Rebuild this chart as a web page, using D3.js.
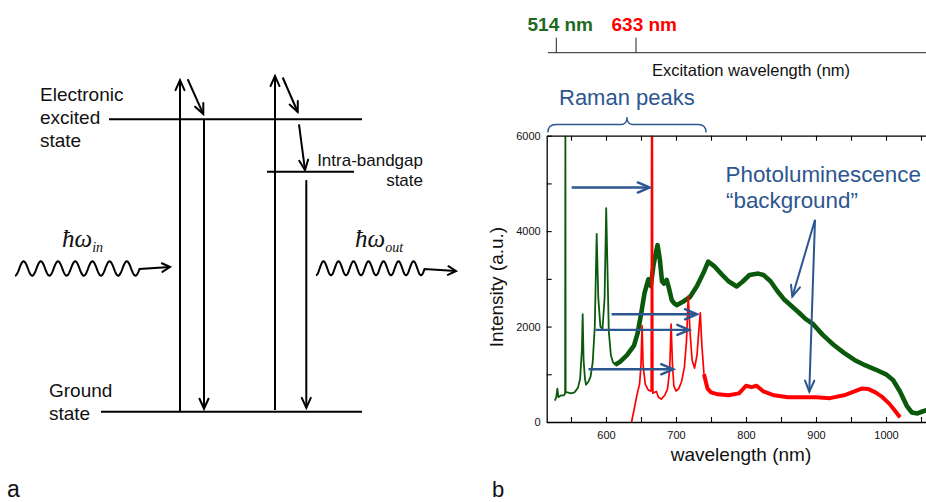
<!DOCTYPE html>
<html>
<head>
<meta charset="utf-8">
<script src="https://cdn.jsdelivr.net/npm/d3@7"></script>
<style>
  body { margin: 0; background: #fff; }
  svg { display: block; }
  text { font-family: "Liberation Sans", Arial, Helvetica, sans-serif; }
</style>
</head>
<body>
<svg id="fig" width="926" height="502"></svg>
<script>
// ---- spectrum data ----
const greenNm = [527,529,530.5,532,536,540,541.6,542,542.4,545,550,555,560,563,565.5,566.7,568,570,571.5,575,
  578,581,584,586.7,589,592,595,598,600.3,602,604,607,610,613,620,630,640,645,650,655,
  660.5,664,668,673.6,677,680,683,686.7,690,694,698,701,710,720,730,740,746,755,765,775,
  786.7,795,805,817.6,825,835,845,855,865,875,885,896,910,925,940,955,970,985,1000,1010,
  1020,1030,1037,1045,1052,1058];
const greenI = [450,520,700,520,560,560,600,6500,620,620,600,620,720,900,1500,2260,1300,900,780,850,
  950,1250,2000,3940,2600,2000,1950,2600,4480,3300,1900,1400,1250,1200,1260,1400,1600,1850,2250,2700,
  2990,2850,3300,3710,3400,2950,2900,2980,2800,2550,2480,2450,2520,2620,2850,3150,3360,3260,3100,2950,
  2840,2940,3080,3110,3080,2950,2740,2560,2430,2300,2160,2050,1820,1620,1450,1300,1190,1100,1000,880,
  640,330,200,180,220,250];

const redNm = [636.5,640,644,648,650,651.5,653,656,660,663,664.6,665.2,666.2,667,669,672,675,679,684,688,
  691,693,695,697,700,704,708,712,715,717.5,720,723,726.5,730,732.5,734.7,737,740,745,750,
  760,775,790,800,808,815,825,840,860,880,900,920,940,955,965,975,985,995,1005,1012,1020];
const redI = [0,250,550,800,1200,2020,1200,800,680,650,650,6500,6500,600,620,640,520,480,560,700,
  1100,2050,1200,750,650,700,850,1150,1700,2640,1900,1300,1130,1400,1900,2290,1600,1000,700,620,
  580,560,600,760,730,760,640,560,520,520,520,500,560,640,700,690,620,520,380,250,100];

const xMajor = [600, 700, 800, 900, 1000];
const xMinor = [550, 650, 750, 850, 950, 1050];
const yMajor = [0, 2000, 4000, 6000];
const yMinor = [1000, 3000, 5000];
const excitation = [514, 633];
const excitationColors = ['#1e6b1e', '#ff0000'];

// Raman shift arrows: [from nm, to nm, intensity]
const ramanArrows = [[551, 662.5, 4915], [608, 730, 2259], [585, 719, 1930], [575, 696, 1105]];
// PL annotation: common start, two ends
const plStart = [898.6, 4237];
const plEnds = [[866.2, 2628], [890.4, 636]];
const braceNm = [517, 743];

const GREEN = '#0b5a0b', RED = '#ff0000', BLUE = '#2c5690';

const svg = d3.select('#fig');

// ================= panel b =================
const x = d3.scaleLinear().domain([515.3, 1060]).range([546.7, 928]);
const y = d3.scaleLinear().domain([0, 6000]).range([422, 135.7]);
const xEx = d3.scaleLinear().domain([514, 633]).range([556.3, 636]);

svg.append('clipPath').attr('id', 'plotClip')
  .append('rect').attr('x', 546.7).attr('y', 135.7).attr('width', 400).attr('height', 286.3);

const plot = svg.append('g').attr('clip-path', 'url(#plotClip)');
const line = d3.line().x(d => x(d[0])).y(d => y(d[1]));

const green = d3.zip(greenNm, greenI);
const red = d3.zip(redNm, redI);

plot.append('path').datum(green).attr('d', line)
  .attr('fill', 'none').attr('stroke', GREEN).attr('stroke-width', 1.8).attr('stroke-linejoin', 'round');
plot.append('path').datum(green.filter(d => d[0] >= 612)).attr('d', line)
  .attr('fill', 'none').attr('stroke', GREEN).attr('stroke-width', 4.6).attr('stroke-linejoin', 'round');
plot.append('path').datum(red).attr('d', line)
  .attr('fill', 'none').attr('stroke', RED).attr('stroke-width', 1.7).attr('stroke-linejoin', 'round');
plot.append('path').datum(red.filter(d => d[0] >= 740)).attr('d', line)
  .attr('fill', 'none').attr('stroke', RED).attr('stroke-width', 4).attr('stroke-linejoin', 'round');

// axes: bottom, top border, left; ticks pointing inward
const axes = svg.append('g');
const bottomAxis = axes.append('g').attr('transform', `translate(0,${y(0)})`)
  .call(d3.axisBottom(x).tickValues(xMajor.concat(xMinor)).tickSizeInner(-5).tickSizeOuter(0)
    .tickFormat(d => xMajor.includes(d) ? d : ''));
bottomAxis.selectAll('text').attr('dy', '0.95em').attr('y', 7).style('font-size', '11px').attr('fill', '#111');
axes.append('g').attr('transform', `translate(0,${y(6000)})`)
  .call(d3.axisTop(x).tickValues(xMajor.concat(xMinor)).tickSizeInner(-5).tickSizeOuter(0).tickFormat(''));
const leftAxis = axes.append('g').attr('transform', `translate(${x.range()[0]},0)`)
  .call(d3.axisLeft(y).tickValues(yMajor.concat(yMinor)).tickSizeInner(-5).tickSizeOuter(0)
    .tickFormat(d => yMajor.includes(d) ? d : ''));
leftAxis.selectAll('text').attr('x', -6).style('font-size', '11px').attr('fill', '#111');
axes.selectAll('.domain').attr('stroke', '#000').attr('stroke-width', 1.3);
axes.selectAll('.tick line').attr('stroke', '#000').attr('stroke-width', 1.1);
axes.selectAll('text').style('font-family', '"Liberation Sans", Arial, sans-serif');

svg.append('text').attr('x', 741).attr('y', 461).attr('text-anchor', 'middle')
  .style('font-size', '19px').attr('fill', '#111').text('wavelength (nm)');
svg.append('text').attr('transform', 'translate(503,287) rotate(-90)').attr('text-anchor', 'middle')
  .style('font-size', '19px').attr('fill', '#111').text('Intensity (a.u.)');

// excitation axis
const exAxis = svg.append('g').attr('transform', 'translate(0,52.7)');
exAxis.append('line').attr('x1', 548).attr('x2', 926).attr('stroke', '#222').attr('stroke-width', 1);
exAxis.selectAll('.exTick').data(excitation).enter().append('line')
  .attr('x1', d => xEx(d)).attr('x2', d => xEx(d)).attr('y1', 0).attr('y2', -15)
  .attr('stroke', '#222').attr('stroke-width', 1);
svg.selectAll('.exLabel').data(excitation).enter().append('text')
  .attr('x', (d, i) => i === 0 ? 527.5 : 611.5).attr('y', 31)
  .style('font-size', '19px').style('font-weight', 'bold')
  .attr('fill', (d, i) => excitationColors[i]).text(d => d + ' nm');
svg.append('text').attr('x', 751).attr('y', 76).attr('text-anchor', 'middle')
  .style('font-size', '16.5px').attr('fill', '#111').text('Excitation wavelength (nm)');

// Raman peaks brace
const bx0 = x(braceNm[0]), bx1 = x(braceNm[1]), bm = (bx0 + bx1) / 2;
svg.append('path')
  .attr('d', `M${bx0},132.5 Q${bx0},124.5 ${bx0 + 8},124.5 L${bm - 6},124.5 Q${bm},124.5 ${bm},117 ` +
             `Q${bm},124.5 ${bm + 6},124.5 L${bx1 - 8},124.5 Q${bx1},124.5 ${bx1},132.5`)
  .attr('fill', 'none').attr('stroke', BLUE).attr('stroke-width', 1.3);
svg.append('text').attr('x', 559).attr('y', 105).style('font-size', '22px').attr('fill', BLUE).text('Raman peaks');

svg.append('text').attr('x', 725.5).attr('y', 182).style('font-size', '22.4px').attr('fill', BLUE).text('Photoluminescence');
svg.append('text').attr('x', 726).attr('y', 208).style('font-size', '22.4px').attr('fill', BLUE).text('\u201Cbackground\u201D');

function arrowHead(g, x1, y1, x2, y2, len, ang, color, w) {
  const a = Math.atan2(y2 - y1, x2 - x1);
  const pts = [a + ang, a - ang].map(t => [x2 - len * Math.cos(t), y2 - len * Math.sin(t)]);
  g.append('path').attr('d', `M${pts[0][0]},${pts[0][1]} L${x2},${y2} L${pts[1][0]},${pts[1][1]}`)
    .attr('fill', 'none').attr('stroke', color).attr('stroke-width', w)
    .attr('stroke-linejoin', 'miter').attr('stroke-linecap', 'round');
}

const ann = svg.append('g');
ramanArrows.forEach(([a, b, v]) => {
  ann.append('line').attr('x1', x(a)).attr('x2', x(b) - 1).attr('y1', y(v)).attr('y2', y(v))
    .attr('stroke', BLUE).attr('stroke-width', 2.4);
  arrowHead(ann, x(a), y(v), x(b), y(v), 13, 0.4, BLUE, 2.4);
});
plEnds.forEach(([a, v]) => {
  ann.append('line').attr('x1', x(plStart[0])).attr('y1', y(plStart[1])).attr('x2', x(a)).attr('y2', y(v))
    .attr('stroke', BLUE).attr('stroke-width', 2);
  arrowHead(ann, x(plStart[0]), y(plStart[1]), x(a), y(v), 12, 0.4, BLUE, 2);
});

// ================= panel a =================
const E = d3.scaleLinear().domain([0, 1]).range([411.7, 119.3]);
const levels = [
  { E: 0, x1: 101, x2: 362 },
  { E: 1, x1: 109, x2: 362 },
  { E: 0.821, x1: 267, x2: 354 }
];
const diag = svg.append('g').attr('stroke', '#000').attr('fill', 'none');
levels.forEach(l => {
  diag.append('line').attr('x1', l.x1).attr('x2', l.x2).attr('y1', E(l.E)).attr('y2', E(l.E)).attr('stroke-width', 2);
});
// transitions: [x1, E1, x2, E2]
const transitions = [
  [180, 0, 180, 1.134],
  [187.7, 1.137, 203.3, 1.018],
  [204, 1, 204, 0.01],
  [275, 0.006, 275, 1.148],
  [282.7, 1.143, 297.7, 1.025],
  [299, 0.983, 305, 0.826],
  [306.3, 0.792, 306.3, 0.013]
];
transitions.forEach(([xa, ea, xb, eb]) => {
  diag.append('line').attr('x1', xa).attr('y1', E(ea)).attr('x2', xb).attr('y2', E(eb)).attr('stroke-width', 2);
  arrowHead(diag, xa, E(ea), xb, E(eb), 11, 0.42, '#000', 2);
});

// photon wiggles
function wiggle(x0, cycles, period, yc, amp, tipX, tipY) {
  const pts = [];
  const xe = x0 + cycles * period;
  for (let xx = x0; xx <= xe + period / 4; xx += 0.5) {
    pts.push([xx, yc + amp * Math.cos(2 * Math.PI * (xx - x0) / period)]);
  }
  pts.push([tipX, tipY]);
  diag.append('path').attr('d', d3.line()(pts)).attr('stroke-width', 2);
  const last = pts[pts.length - 2];
  arrowHead(diag, last[0], last[1], tipX, tipY, 9, 0.5, '#000', 2);
}
wiggle(15, 7, 17.2, 268.5, 7.2, 170, 267);
wiggle(316, 7, 15, 268.3, 7, 456, 271);

// labels
const lab = svg.append('g').attr('fill', '#111').style('font-size', '19px');
['Electronic', 'excited', 'state'].forEach((t, i) => lab.append('text').attr('x', 40).attr('y', 100.7 + i * 23.3).text(t));
['Ground', 'state'].forEach((t, i) => lab.append('text').attr('x', 49).attr('y', 396.7 + i * 23.3).text(t));
lab.append('text').attr('x', 423).attr('y', 166).attr('text-anchor', 'end').style('font-size', '17px').text('Intra-bandgap');
lab.append('text').attr('x', 423).attr('y', 186).attr('text-anchor', 'end').style('font-size', '17px').text('state');

function hbar(xp, yp, sub) {
  const t = svg.append('text').attr('x', xp).attr('y', yp)
    .style('font-family', '"Liberation Serif", "DejaVu Serif", serif').style('font-style', 'italic')
    .style('font-size', '25px').attr('fill', '#111');
  t.append('tspan').text('\u0127\u03C9');
  t.append('tspan').attr('dy', 5).style('font-size', '14px').text(sub);
}
hbar(62, 247, 'in');
hbar(355, 247, 'out');

svg.append('text').attr('x', 7).attr('y', 497).style('font-size', '23px').attr('fill', '#111').text('a');
svg.append('text').attr('x', 492).attr('y', 497).style('font-size', '22px').attr('fill', '#111').text('b');
</script>
</body>
</html>
